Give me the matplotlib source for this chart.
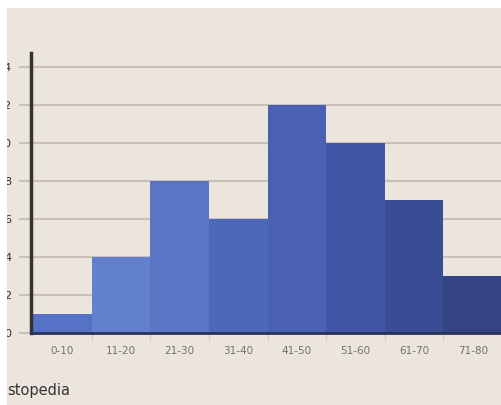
import matplotlib
matplotlib.use("Agg")
import matplotlib.pyplot as plt
from matplotlib.patches import Rectangle

# age-group histogram
bins = ["0-10", "11-20", "21-30", "31-40", "41-50", "51-60", "61-70", "71-80"]
counts = [1, 4, 8, 6, 12, 10, 7, 3]
bar_colors = ["#5672c6", "#6181cc", "#5a75c3", "#4d68b8",
              "#4a60b3", "#4056a5", "#3a4c93", "#344483"]
yticks = [0, 2, 4, 6, 8, 10, 12, 14]

bg = "#ece5de"
grid_c = "#c9c0b9"

W, H = 502, 405
fig = plt.figure(figsize=(W / 100, H / 100), dpi=100, facecolor=bg)
ax = fig.add_axes([31 / W, 72 / H, 471 / W, 280 / H])
ax.set_facecolor("none")

x = list(range(len(bins)))
ax.bar(x, counts, width=1.0, align="edge", color=bar_colors, zorder=3, linewidth=0)

ax.set_xlim(-0.035, 8)
ax.set_ylim(0, 14.74)

ax.set_yticks(yticks)
ax.set_yticklabels([str(v) for v in yticks], fontsize=8, color="#333333",
                   family="DejaVu Sans")
ax.yaxis.grid(True, color=grid_c, linewidth=1.5, zorder=1)
ax.tick_params(axis="y", length=9, width=1.5, color=grid_c, pad=5)

ax.set_xticks([i + 0.5 for i in x])
ax.set_xticklabels(bins, fontsize=7.5, color="#707070", family="DejaVu Sans")
ax.set_xticks(list(range(1, 8)), minor=True)
ax.tick_params(axis="x", which="major", length=0, pad=9)
ax.tick_params(axis="x", which="minor", length=5, width=1, color="#d2cbc5")

for s in ["top", "right"]:
    ax.spines[s].set_visible(False)
ax.spines["left"].set_color("#333333")
ax.spines["left"].set_linewidth(2.5)
ax.spines["left"].set_zorder(5)
ax.spines["bottom"].set_color("#2a325a")
ax.spines["bottom"].set_linewidth(2)
ax.spines["bottom"].set_zorder(5)

fig.text(7 / W, 1 - 390 / H, "stopedia", fontsize=10.5, color="#333333",
         family="DejaVu Sans", ha="left", va="center")

# white margins along top and left edges
fig.add_artist(Rectangle((0, 1 - 8 / H), 1, 8 / H, transform=fig.transFigure,
                         facecolor="white", edgecolor="none", zorder=20))
fig.add_artist(Rectangle((0, 0), 7 / W, 1, transform=fig.transFigure,
                         facecolor="white", edgecolor="none", zorder=20))

fig.savefig("out.png", dpi=100, facecolor=bg)
